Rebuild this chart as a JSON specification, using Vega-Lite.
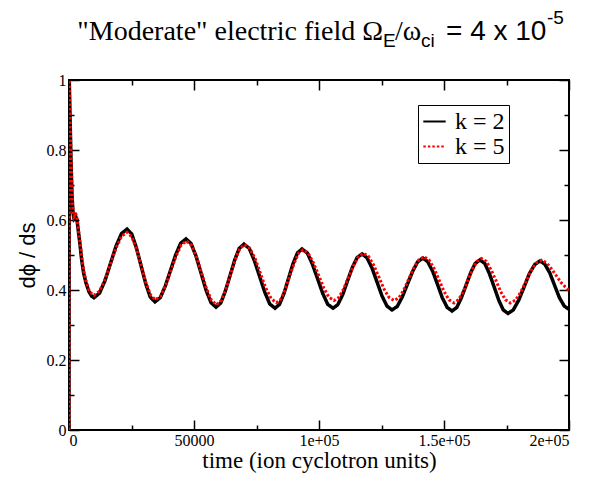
{
  "$schema": "https://vega.github.io/schema/vega-lite/v6.json",
  "width": 500,
  "height": 350,
  "autosize": "none",
  "padding": {"left": 69, "top": 80, "right": 24, "bottom": 52},
  "background": "white",
  "config": {
    "view": {"stroke": "black", "strokeWidth": 2},
    "axis": {"labelFont": "Liberation Serif", "labelFontSize": 16, "labelColor": "black", "tickColor": "black", "tickWidth": 1.5, "domain": false, "grid": false, "titleColor": "black", "titleFontWeight": "normal"}
  },
  "data": {"values": [
    {"k":"k = 2","t":0,"v":0},{"k":"k = 2","t":100,"v":1.0},{"k":"k = 2","t":400,"v":0.9},{"k":"k = 2","t":800,"v":0.77},{"k":"k = 2","t":1200,"v":0.67},{"k":"k = 2","t":1600,"v":0.62},{"k":"k = 2","t":2000,"v":0.605},{"k":"k = 2","t":2600,"v":0.612},{"k":"k = 2","t":3200,"v":0.6},{"k":"k = 2","t":3800,"v":0.565},{"k":"k = 2","t":4400,"v":0.53},{"k":"k = 2","t":5000,"v":0.49},{"k":"k = 2","t":5800,"v":0.45},{"k":"k = 2","t":6800,"v":0.42},{"k":"k = 2","t":8000,"v":0.395},{"k":"k = 2","t":9000,"v":0.383},{"k":"k = 2","t":10000,"v":0.378},
    {"k":"k = 2","t":12200,"v":0.391},{"k":"k = 2","t":14400,"v":0.427},{"k":"k = 2","t":16600,"v":0.476},{"k":"k = 2","t":18800,"v":0.525},{"k":"k = 2","t":21000,"v":0.561},{"k":"k = 2","t":23200,"v":0.574},
    {"k":"k = 2","t":25100,"v":0.56},{"k":"k = 2","t":26900,"v":0.522},{"k":"k = 2","t":28800,"v":0.47},{"k":"k = 2","t":30700,"v":0.418},{"k":"k = 2","t":32500,"v":0.38},{"k":"k = 2","t":34400,"v":0.366},
    {"k":"k = 2","t":36500,"v":0.378},{"k":"k = 2","t":38500,"v":0.411},{"k":"k = 2","t":40600,"v":0.456},{"k":"k = 2","t":42700,"v":0.501},{"k":"k = 2","t":44700,"v":0.534},{"k":"k = 2","t":46800,"v":0.546},
    {"k":"k = 2","t":48800,"v":0.533},{"k":"k = 2","t":50800,"v":0.497},{"k":"k = 2","t":52800,"v":0.449},{"k":"k = 2","t":54800,"v":0.4},{"k":"k = 2","t":56800,"v":0.364},{"k":"k = 2","t":58800,"v":0.351},
    {"k":"k = 2","t":60700,"v":0.363},{"k":"k = 2","t":62500,"v":0.396},{"k":"k = 2","t":64400,"v":0.441},{"k":"k = 2","t":66300,"v":0.486},{"k":"k = 2","t":68100,"v":0.519},{"k":"k = 2","t":70000,"v":0.531},
    {"k":"k = 2","t":72100,"v":0.519},{"k":"k = 2","t":74100,"v":0.485},{"k":"k = 2","t":76200,"v":0.44},{"k":"k = 2","t":78300,"v":0.394},{"k":"k = 2","t":80300,"v":0.36},{"k":"k = 2","t":82400,"v":0.348},
    {"k":"k = 2","t":84200,"v":0.359},{"k":"k = 2","t":86000,"v":0.39},{"k":"k = 2","t":87800,"v":0.433},{"k":"k = 2","t":89600,"v":0.475},{"k":"k = 2","t":91400,"v":0.506},{"k":"k = 2","t":93200,"v":0.517},
    {"k":"k = 2","t":95300,"v":0.506},{"k":"k = 2","t":97300,"v":0.475},{"k":"k = 2","t":99400,"v":0.433},{"k":"k = 2","t":101500,"v":0.39},{"k":"k = 2","t":103500,"v":0.359},{"k":"k = 2","t":105600,"v":0.348},
    {"k":"k = 2","t":107500,"v":0.358},{"k":"k = 2","t":109500,"v":0.387},{"k":"k = 2","t":111400,"v":0.426},{"k":"k = 2","t":113300,"v":0.464},{"k":"k = 2","t":115300,"v":0.493},{"k":"k = 2","t":117200,"v":0.503},
    {"k":"k = 2","t":119200,"v":0.492},{"k":"k = 2","t":121200,"v":0.463},{"k":"k = 2","t":123200,"v":0.423},{"k":"k = 2","t":125200,"v":0.383},{"k":"k = 2","t":127200,"v":0.354},{"k":"k = 2","t":129200,"v":0.343},
    {"k":"k = 2","t":131300,"v":0.353},{"k":"k = 2","t":133300,"v":0.38},{"k":"k = 2","t":135400,"v":0.417},{"k":"k = 2","t":137500,"v":0.454},{"k":"k = 2","t":139500,"v":0.481},{"k":"k = 2","t":141600,"v":0.491},
    {"k":"k = 2","t":143500,"v":0.481},{"k":"k = 2","t":145500,"v":0.453},{"k":"k = 2","t":147400,"v":0.416},{"k":"k = 2","t":149300,"v":0.378},{"k":"k = 2","t":151300,"v":0.35},{"k":"k = 2","t":153200,"v":0.34},
    {"k":"k = 2","t":155100,"v":0.35},{"k":"k = 2","t":156900,"v":0.377},{"k":"k = 2","t":158800,"v":0.413},{"k":"k = 2","t":160700,"v":0.45},{"k":"k = 2","t":162500,"v":0.476},{"k":"k = 2","t":164400,"v":0.486},
    {"k":"k = 2","t":166300,"v":0.476},{"k":"k = 2","t":168100,"v":0.448},{"k":"k = 2","t":170000,"v":0.41},{"k":"k = 2","t":171900,"v":0.371},{"k":"k = 2","t":173700,"v":0.343},{"k":"k = 2","t":175600,"v":0.333},
    {"k":"k = 2","t":177700,"v":0.343},{"k":"k = 2","t":179900,"v":0.371},{"k":"k = 2","t":182000,"v":0.408},{"k":"k = 2","t":184100,"v":0.446},{"k":"k = 2","t":186300,"v":0.473},{"k":"k = 2","t":188400,"v":0.483},
    {"k":"k = 2","t":190300,"v":0.474},{"k":"k = 2","t":192300,"v":0.449},{"k":"k = 2","t":194200,"v":0.414},{"k":"k = 2","t":196100,"v":0.379},{"k":"k = 2","t":198100,"v":0.354},{"k":"k = 2","t":200000,"v":0.345},
    {"k":"k = 5","t":0,"v":0},{"k":"k = 5","t":100,"v":1.0},{"k":"k = 5","t":400,"v":0.9},{"k":"k = 5","t":800,"v":0.78},{"k":"k = 5","t":1200,"v":0.68},{"k":"k = 5","t":1600,"v":0.625},{"k":"k = 5","t":2000,"v":0.61},{"k":"k = 5","t":2600,"v":0.62},{"k":"k = 5","t":3200,"v":0.605},{"k":"k = 5","t":3800,"v":0.57},{"k":"k = 5","t":4400,"v":0.535},{"k":"k = 5","t":5000,"v":0.5},{"k":"k = 5","t":5800,"v":0.458},{"k":"k = 5","t":6800,"v":0.425},{"k":"k = 5","t":8000,"v":0.4},{"k":"k = 5","t":9000,"v":0.39},{"k":"k = 5","t":10000,"v":0.385},
    {"k":"k = 5","t":12200,"v":0.397},{"k":"k = 5","t":14400,"v":0.43},{"k":"k = 5","t":16600,"v":0.475},{"k":"k = 5","t":18800,"v":0.52},{"k":"k = 5","t":21000,"v":0.553},{"k":"k = 5","t":23200,"v":0.565},
    {"k":"k = 5","t":25100,"v":0.552},{"k":"k = 5","t":27000,"v":0.517},{"k":"k = 5","t":28900,"v":0.469},{"k":"k = 5","t":30800,"v":0.42},{"k":"k = 5","t":32700,"v":0.385},{"k":"k = 5","t":34600,"v":0.372},
    {"k":"k = 5","t":36700,"v":0.383},{"k":"k = 5","t":38700,"v":0.414},{"k":"k = 5","t":40800,"v":0.456},{"k":"k = 5","t":42900,"v":0.498},{"k":"k = 5","t":44900,"v":0.529},{"k":"k = 5","t":47000,"v":0.54},
    {"k":"k = 5","t":49000,"v":0.528},{"k":"k = 5","t":51000,"v":0.495},{"k":"k = 5","t":53000,"v":0.449},{"k":"k = 5","t":55000,"v":0.404},{"k":"k = 5","t":57000,"v":0.37},{"k":"k = 5","t":59000,"v":0.358},
    {"k":"k = 5","t":60900,"v":0.37},{"k":"k = 5","t":62700,"v":0.401},{"k":"k = 5","t":64600,"v":0.444},{"k":"k = 5","t":66500,"v":0.487},{"k":"k = 5","t":68300,"v":0.518},{"k":"k = 5","t":70200,"v":0.53},
    {"k":"k = 5","t":72300,"v":0.519},{"k":"k = 5","t":74500,"v":0.489},{"k":"k = 5","t":76600,"v":0.447},{"k":"k = 5","t":78700,"v":0.406},{"k":"k = 5","t":80900,"v":0.375},{"k":"k = 5","t":83000,"v":0.364},
    {"k":"k = 5","t":84800,"v":0.374},{"k":"k = 5","t":86500,"v":0.402},{"k":"k = 5","t":88300,"v":0.44},{"k":"k = 5","t":90100,"v":0.477},{"k":"k = 5","t":91800,"v":0.505},{"k":"k = 5","t":93600,"v":0.515},
    {"k":"k = 5","t":95700,"v":0.505},{"k":"k = 5","t":97700,"v":0.479},{"k":"k = 5","t":99800,"v":0.443},{"k":"k = 5","t":101900,"v":0.406},{"k":"k = 5","t":103900,"v":0.38},{"k":"k = 5","t":106000,"v":0.37},
    {"k":"k = 5","t":108000,"v":0.379},{"k":"k = 5","t":109900,"v":0.404},{"k":"k = 5","t":111900,"v":0.438},{"k":"k = 5","t":113900,"v":0.471},{"k":"k = 5","t":115800,"v":0.496},{"k":"k = 5","t":117800,"v":0.505},
    {"k":"k = 5","t":119800,"v":0.496},{"k":"k = 5","t":121900,"v":0.471},{"k":"k = 5","t":123900,"v":0.438},{"k":"k = 5","t":125900,"v":0.404},{"k":"k = 5","t":128000,"v":0.379},{"k":"k = 5","t":130000,"v":0.37},
    {"k":"k = 5","t":132000,"v":0.378},{"k":"k = 5","t":134000,"v":0.401},{"k":"k = 5","t":136000,"v":0.433},{"k":"k = 5","t":138000,"v":0.464},{"k":"k = 5","t":140000,"v":0.487},{"k":"k = 5","t":142000,"v":0.495},
    {"k":"k = 5","t":144000,"v":0.486},{"k":"k = 5","t":146000,"v":0.462},{"k":"k = 5","t":148000,"v":0.429},{"k":"k = 5","t":150000,"v":0.396},{"k":"k = 5","t":152000,"v":0.372},{"k":"k = 5","t":154000,"v":0.363},
    {"k":"k = 5","t":155800,"v":0.372},{"k":"k = 5","t":157700,"v":0.395},{"k":"k = 5","t":159500,"v":0.427},{"k":"k = 5","t":161300,"v":0.458},{"k":"k = 5","t":163200,"v":0.482},{"k":"k = 5","t":165000,"v":0.49},
    {"k":"k = 5","t":166900,"v":0.482},{"k":"k = 5","t":168800,"v":0.458},{"k":"k = 5","t":170800,"v":0.427},{"k":"k = 5","t":172700,"v":0.395},{"k":"k = 5","t":174600,"v":0.372},{"k":"k = 5","t":176500,"v":0.363},
    {"k":"k = 5","t":178600,"v":0.371},{"k":"k = 5","t":180700,"v":0.394},{"k":"k = 5","t":182800,"v":0.424},{"k":"k = 5","t":184800,"v":0.455},{"k":"k = 5","t":186900,"v":0.477},{"k":"k = 5","t":189000,"v":0.485},
    {"k":"k = 5","t":191000,"v":0.478},{"k":"k = 5","t":193000,"v":0.46},{"k":"k = 5","t":195000,"v":0.44},{"k":"k = 5","t":197000,"v":0.42},{"k":"k = 5","t":199000,"v":0.405},{"k":"k = 5","t":200000,"v":0.398}
  ]},
  "resolve": {"scale": {"x": "shared", "y": "shared", "color": "shared", "strokeDash": "shared"}, "axis": {"x": "independent", "y": "independent"}},
  "layer": [
    {
      "transform": [{"filter": "datum.k == 'k = 2'"}],
      "mark": {"type": "line", "strokeWidth": 3.5, "clip": true},
      "encoding": {
        "x": {"field": "t", "type": "quantitative", "scale": {"domain": [0, 200000], "nice": false},
          "axis": {"orient": "bottom", "values": [0, 50000, 100000, 150000, 200000], "tickSize": -10, "labelPadding": 12,
            "labelExpr": "datum.value == 0 ? '0' : datum.value == 50000 ? '50000' : datum.value == 100000 ? '1e+05' : datum.value == 150000 ? '1.5e+05' : '2e+05'",
            "title": "time (ion cyclotron units)", "titleFont": "Liberation Serif", "titleFontSize": 23, "titlePadding": 1}},
        "y": {"field": "v", "type": "quantitative", "scale": {"domain": [0, 1], "nice": false},
          "axis": {"orient": "left", "values": [0, 0.2, 0.4, 0.6, 0.8, 1], "tickSize": -10, "labelPadding": 13,
            "labelExpr": "format(datum.value, '~g')",
            "title": "dϕ / ds", "titleFont": "Liberation Sans", "titleFontSize": 22, "titlePadding": 7}},
        "color": {"field": "k", "type": "nominal", "scale": {"domain": ["k = 2", "k = 5"], "range": ["black", "red"]},
          "legend": {"orient": "none", "legendX": 349, "legendY": 25, "title": null, "symbolType": "stroke", "symbolSize": 500, "symbolStrokeWidth": 2,
            "labelFont": "Liberation Serif", "labelFontSize": 24, "labelColor": "black", "strokeColor": "black", "fillColor": "white", "padding": 4, "rowPadding": -3, "labelOffset": 8, "symbolOffset": 0, "cornerRadius": 0}},
        "strokeDash": {"field": "k", "type": "nominal", "scale": {"domain": ["k = 2", "k = 5"], "range": [[1, 0], [2.5, 2]]}, "legend": null}
      }
    },
    {
      "transform": [{"filter": "datum.k == 'k = 5'"}],
      "mark": {"type": "line", "strokeWidth": 3, "clip": true},
      "encoding": {
        "x": {"field": "t", "type": "quantitative", "axis": {"orient": "top", "values": [0, 50000, 100000, 150000, 200000], "tickSize": -10, "labels": false, "title": null}},
        "y": {"field": "v", "type": "quantitative", "axis": {"orient": "right", "values": [0, 0.2, 0.4, 0.6, 0.8, 1], "tickSize": -10, "labels": false, "title": null}},
        "color": {"field": "k", "type": "nominal"},
        "strokeDash": {"field": "k", "type": "nominal", "legend": null}
      }
    },
    {
      "mark": {"type": "point", "opacity": 0},
      "encoding": {
        "x": {"field": "t", "type": "quantitative", "axis": {"orient": "bottom", "values": [25000, 75000, 125000, 175000], "tickSize": -5, "labels": false, "title": null}},
        "y": {"field": "v", "type": "quantitative", "axis": {"orient": "left", "values": [0.1, 0.3, 0.5, 0.7, 0.9], "tickSize": -5, "labels": false, "title": null}}
      }
    },
    {
      "mark": {"type": "point", "opacity": 0},
      "encoding": {
        "x": {"field": "t", "type": "quantitative", "axis": {"orient": "top", "values": [25000, 75000, 125000, 175000], "tickSize": -5, "labels": false, "title": null}},
        "y": {"field": "v", "type": "quantitative", "axis": {"orient": "right", "values": [0.1, 0.3, 0.5, 0.7, 0.9], "tickSize": -5, "labels": false, "title": null}}
      }
    },
    {
      "data": {"values": [{}]},
      "layer": [
        {"mark": {"type": "text", "text": "\"Moderate\" electric field Ω", "font": "Liberation Serif", "fontSize": 28, "align": "right", "baseline": "alphabetic", "color": "black"},
         "encoding": {"x": {"value": 314}, "y": {"value": -40}}},
        {"mark": {"type": "text", "text": "E", "font": "Liberation Sans", "fontSize": 19, "align": "left", "baseline": "alphabetic", "color": "black"},
         "encoding": {"x": {"value": 314}, "y": {"value": -33}}},
        {"mark": {"type": "text", "text": "/ω", "font": "Liberation Serif", "fontSize": 28, "align": "left", "baseline": "alphabetic", "color": "black"},
         "encoding": {"x": {"value": 326}, "y": {"value": -40}}},
        {"mark": {"type": "text", "text": "ci", "font": "Liberation Sans", "fontSize": 19, "align": "left", "baseline": "alphabetic", "color": "black"},
         "encoding": {"x": {"value": 352}, "y": {"value": -33}}},
        {"mark": {"type": "text", "text": "= 4 x 10", "font": "Liberation Sans", "fontSize": 28, "align": "left", "baseline": "alphabetic", "color": "black"},
         "encoding": {"x": {"value": 377}, "y": {"value": -40}}},
        {"mark": {"type": "text", "text": "-5", "font": "Liberation Sans", "fontSize": 19, "align": "left", "baseline": "alphabetic", "color": "black"},
         "encoding": {"x": {"value": 478}, "y": {"value": -56}}}
      ]
    }
  ]
}
